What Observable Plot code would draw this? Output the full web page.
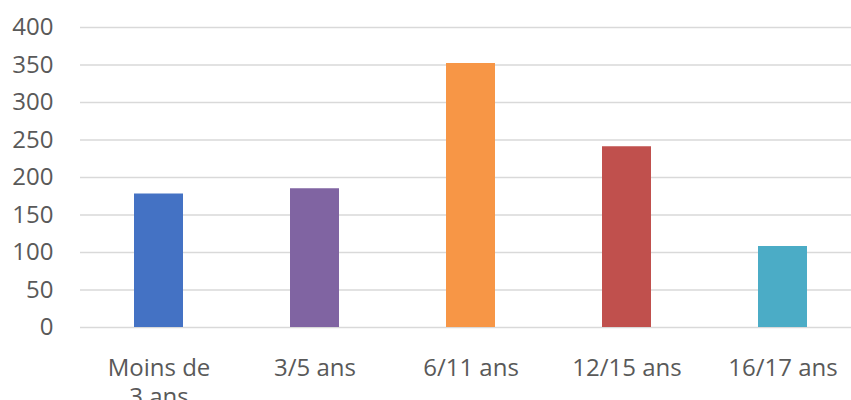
<!DOCTYPE html>
<html><head><meta charset="utf-8">
<script src="https://cdn.jsdelivr.net/npm/d3@7"></script>
<script src="https://cdn.jsdelivr.net/npm/@observablehq/plot@0.6"></script>
<style>body{margin:0;background:#fff;overflow:hidden}</style>
</head><body><div id="chart"></div>
<script>
const categories = ["Moins de\n3 ans", "3/5 ans", "6/11 ans", "12/15 ans", "16/17 ans"];
const values = [178, 185, 352, 241, 108];
const colors = ["#4472C4", "#8064A2", "#F79646", "#C0504D", "#4BACC6"];
const yTicks = [0, 50, 100, 150, 200, 250, 300, 350, 400];

const data = categories.map((c, i) => ({category: c, value: values[i], color: colors[i]}));

const chart = Plot.plot({
  width: 851, height: 400,
  marginTop: 27, marginBottom: 73, marginLeft: 80, marginRight: -10,
  style: {fontFamily: "'Open Sans', sans-serif", fontSize: "24px", color: "#595959", background: "#fff"},
  x: {domain: categories, paddingInner: 0.685, paddingOuter: 0.3425, label: null},
  y: {domain: [0, 400], label: null},
  color: {type: "identity"},
  marks: [
    Plot.gridY(yTicks, {stroke: "#d9d9d9", strokeOpacity: 1, strokeWidth: 1.5}),
    Plot.barY(data, {x: "category", y: "value", fill: "color"}),
    Plot.axisY(yTicks, {tickSize: 0, tickPadding: 27, fontSize: 24, label: null}),
    Plot.axisX({tickSize: 0, tickPadding: 28, fontSize: 24, lineHeight: 1.2, label: null})
  ]
});
document.getElementById("chart").appendChild(chart);
</script>
</body></html>
